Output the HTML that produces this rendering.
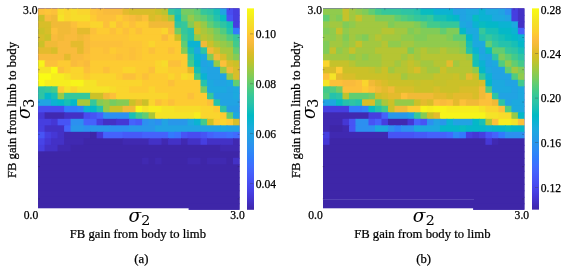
<!DOCTYPE html>
<html><head><meta charset="utf-8"><title>FB gain heatmaps</title>
<style>html,body{margin:0;padding:0;background:#fff}body{width:568px;height:267px;overflow:hidden}</style></head>
<body>
<svg width="568" height="267" viewBox="0 0 568 267" style="display:block">
<defs><linearGradient id="pg" x1="0" y1="1" x2="0" y2="0"><stop offset="0.0000" stop-color="#3e26a8"/><stop offset="0.0312" stop-color="#422ebf"/><stop offset="0.0625" stop-color="#4537d5"/><stop offset="0.0938" stop-color="#4741e5"/><stop offset="0.1250" stop-color="#484cf0"/><stop offset="0.1562" stop-color="#4757f7"/><stop offset="0.1875" stop-color="#4562fc"/><stop offset="0.2188" stop-color="#3f6eff"/><stop offset="0.2500" stop-color="#337afd"/><stop offset="0.2812" stop-color="#2e86f8"/><stop offset="0.3125" stop-color="#2c90f0"/><stop offset="0.3438" stop-color="#269ae8"/><stop offset="0.3750" stop-color="#21a3e3"/><stop offset="0.4062" stop-color="#1aacdd"/><stop offset="0.4375" stop-color="#0bb3d2"/><stop offset="0.4688" stop-color="#01bac4"/><stop offset="0.5000" stop-color="#17bfb6"/><stop offset="0.5312" stop-color="#2bc3a8"/><stop offset="0.5625" stop-color="#35c79b"/><stop offset="0.5938" stop-color="#48cb86"/><stop offset="0.6250" stop-color="#61cd72"/><stop offset="0.6562" stop-color="#7dcc5b"/><stop offset="0.6875" stop-color="#96ca48"/><stop offset="0.7188" stop-color="#b2c635"/><stop offset="0.7500" stop-color="#cbc128"/><stop offset="0.7812" stop-color="#debc29"/><stop offset="0.8125" stop-color="#f1ba37"/><stop offset="0.8438" stop-color="#fcbc3e"/><stop offset="0.8750" stop-color="#fdcb32"/><stop offset="0.9062" stop-color="#f8d92b"/><stop offset="0.9375" stop-color="#f5e327"/><stop offset="0.9688" stop-color="#f6f11c"/><stop offset="1.0000" stop-color="#f9fb15"/></linearGradient></defs>
<rect width="568" height="267" fill="#fff"/>
<clipPath id="cl"><rect x="38.1" y="8.35" width="201.4" height="201.45"/></clipPath>
<g clip-path="url(#cl)">
<rect x="37.1" y="7.35" width="203.4" height="203.45" fill="#3e26a8"/>
<rect x="38.10" y="8.35" width="7.50" height="7.50" fill="#fcc03a"/>
<rect x="44.60" y="8.35" width="7.50" height="7.50" fill="#fdc537"/>
<rect x="51.09" y="8.35" width="7.50" height="7.50" fill="#fcc03a"/>
<rect x="57.59" y="8.35" width="7.50" height="7.50" fill="#f7dc2a"/>
<rect x="64.09" y="8.35" width="7.50" height="7.50" fill="#fad52d"/>
<rect x="70.58" y="8.35" width="7.50" height="7.50" fill="#f7dc2a"/>
<rect x="77.08" y="8.35" width="13.99" height="7.50" fill="#fad52d"/>
<rect x="90.07" y="8.35" width="7.50" height="7.50" fill="#fdc537"/>
<rect x="96.57" y="8.35" width="7.50" height="7.50" fill="#fcc03a"/>
<rect x="103.07" y="8.35" width="20.49" height="7.50" fill="#f9bb3c"/>
<rect x="122.56" y="8.35" width="7.50" height="7.50" fill="#e4bb2d"/>
<rect x="129.05" y="8.35" width="26.99" height="7.50" fill="#d8be29"/>
<rect x="155.04" y="8.35" width="7.50" height="7.50" fill="#cbc128"/>
<rect x="161.54" y="8.35" width="7.50" height="7.50" fill="#bac431"/>
<rect x="168.04" y="8.35" width="7.50" height="7.50" fill="#35c79b"/>
<rect x="174.53" y="8.35" width="7.50" height="7.50" fill="#25c2ac"/>
<rect x="181.03" y="8.35" width="13.99" height="7.50" fill="#75cc62"/>
<rect x="194.02" y="8.35" width="7.50" height="7.50" fill="#61cd72"/>
<rect x="200.52" y="8.35" width="7.50" height="7.50" fill="#35c79b"/>
<rect x="207.02" y="8.35" width="7.50" height="7.50" fill="#2ec4a4"/>
<rect x="213.51" y="8.35" width="7.50" height="7.50" fill="#17bfb6"/>
<rect x="220.01" y="8.35" width="7.50" height="7.50" fill="#21a3e3"/>
<rect x="226.51" y="8.35" width="7.50" height="7.50" fill="#484cf0"/>
<rect x="233.00" y="8.35" width="7.50" height="7.50" fill="#463ee0"/>
<rect x="38.10" y="14.85" width="7.50" height="7.50" fill="#cbc128"/>
<rect x="44.60" y="14.85" width="7.50" height="7.50" fill="#f9bb3c"/>
<rect x="51.09" y="14.85" width="7.50" height="7.50" fill="#f1ba37"/>
<rect x="57.59" y="14.85" width="7.50" height="7.50" fill="#f5e327"/>
<rect x="64.09" y="14.85" width="7.50" height="7.50" fill="#fad52d"/>
<rect x="70.58" y="14.85" width="20.49" height="7.50" fill="#f7dc2a"/>
<rect x="90.07" y="14.85" width="7.50" height="7.50" fill="#fdcb32"/>
<rect x="96.57" y="14.85" width="20.49" height="7.50" fill="#fcc03a"/>
<rect x="116.06" y="14.85" width="7.50" height="7.50" fill="#fdcb32"/>
<rect x="122.56" y="14.85" width="7.50" height="7.50" fill="#fcc03a"/>
<rect x="129.05" y="14.85" width="7.50" height="7.50" fill="#f9bb3c"/>
<rect x="135.55" y="14.85" width="7.50" height="7.50" fill="#f1ba37"/>
<rect x="142.05" y="14.85" width="7.50" height="7.50" fill="#fcc03a"/>
<rect x="148.55" y="14.85" width="7.50" height="7.50" fill="#d8be29"/>
<rect x="155.04" y="14.85" width="7.50" height="7.50" fill="#e4bb2d"/>
<rect x="161.54" y="14.85" width="7.50" height="7.50" fill="#d8be29"/>
<rect x="168.04" y="14.85" width="7.50" height="7.50" fill="#aac73b"/>
<rect x="174.53" y="14.85" width="7.50" height="7.50" fill="#17bfb6"/>
<rect x="181.03" y="14.85" width="7.50" height="7.50" fill="#61cd72"/>
<rect x="187.53" y="14.85" width="7.50" height="7.50" fill="#96ca48"/>
<rect x="194.02" y="14.85" width="7.50" height="7.50" fill="#75cc62"/>
<rect x="200.52" y="14.85" width="7.50" height="7.50" fill="#61cd72"/>
<rect x="207.02" y="14.85" width="7.50" height="7.50" fill="#42ca8c"/>
<rect x="213.51" y="14.85" width="7.50" height="7.50" fill="#25c2ac"/>
<rect x="220.01" y="14.85" width="7.50" height="7.50" fill="#08bcc0"/>
<rect x="226.51" y="14.85" width="7.50" height="7.50" fill="#4754f5"/>
<rect x="233.00" y="14.85" width="7.50" height="7.50" fill="#463ee0"/>
<rect x="38.10" y="21.35" width="13.99" height="7.50" fill="#d8be29"/>
<rect x="51.09" y="21.35" width="20.49" height="7.50" fill="#f1ba37"/>
<rect x="70.58" y="21.35" width="7.50" height="7.50" fill="#fcc03a"/>
<rect x="77.08" y="21.35" width="13.99" height="7.50" fill="#fdcb32"/>
<rect x="90.07" y="21.35" width="13.99" height="7.50" fill="#fad52d"/>
<rect x="103.07" y="21.35" width="7.50" height="7.50" fill="#fcc03a"/>
<rect x="109.56" y="21.35" width="7.50" height="7.50" fill="#fad52d"/>
<rect x="116.06" y="21.35" width="7.50" height="7.50" fill="#fcc03a"/>
<rect x="122.56" y="21.35" width="7.50" height="7.50" fill="#fdcb32"/>
<rect x="129.05" y="21.35" width="7.50" height="7.50" fill="#fcc03a"/>
<rect x="135.55" y="21.35" width="13.99" height="7.50" fill="#fdcb32"/>
<rect x="148.55" y="21.35" width="26.99" height="7.50" fill="#f1ba37"/>
<rect x="174.53" y="21.35" width="7.50" height="7.50" fill="#2ec4a4"/>
<rect x="181.03" y="21.35" width="7.50" height="7.50" fill="#35c79b"/>
<rect x="187.53" y="21.35" width="7.50" height="7.50" fill="#85cb55"/>
<rect x="194.02" y="21.35" width="7.50" height="7.50" fill="#bac431"/>
<rect x="200.52" y="21.35" width="7.50" height="7.50" fill="#96ca48"/>
<rect x="207.02" y="21.35" width="7.50" height="7.50" fill="#61cd72"/>
<rect x="213.51" y="21.35" width="7.50" height="7.50" fill="#42ca8c"/>
<rect x="220.01" y="21.35" width="7.50" height="7.50" fill="#2ec4a4"/>
<rect x="226.51" y="21.35" width="7.50" height="7.50" fill="#17bfb6"/>
<rect x="233.00" y="21.35" width="7.50" height="7.50" fill="#463ee0"/>
<rect x="38.10" y="27.85" width="7.50" height="7.50" fill="#cbc128"/>
<rect x="44.60" y="27.85" width="7.50" height="7.50" fill="#d8be29"/>
<rect x="51.09" y="27.85" width="7.50" height="7.50" fill="#fcc03a"/>
<rect x="57.59" y="27.85" width="13.99" height="7.50" fill="#f1ba37"/>
<rect x="70.58" y="27.85" width="7.50" height="7.50" fill="#f9bb3c"/>
<rect x="77.08" y="27.85" width="13.99" height="7.50" fill="#e4bb2d"/>
<rect x="90.07" y="27.85" width="7.50" height="7.50" fill="#fcc03a"/>
<rect x="96.57" y="27.85" width="13.99" height="7.50" fill="#fdcb32"/>
<rect x="109.56" y="27.85" width="7.50" height="7.50" fill="#fcc03a"/>
<rect x="116.06" y="27.85" width="7.50" height="7.50" fill="#fdcb32"/>
<rect x="122.56" y="27.85" width="7.50" height="7.50" fill="#fcc03a"/>
<rect x="129.05" y="27.85" width="7.50" height="7.50" fill="#fdcb32"/>
<rect x="135.55" y="27.85" width="7.50" height="7.50" fill="#fcc03a"/>
<rect x="142.05" y="27.85" width="20.49" height="7.50" fill="#fdcb32"/>
<rect x="161.54" y="27.85" width="7.50" height="7.50" fill="#fad52d"/>
<rect x="168.04" y="27.85" width="7.50" height="7.50" fill="#f9bb3c"/>
<rect x="174.53" y="27.85" width="7.50" height="7.50" fill="#75cc62"/>
<rect x="181.03" y="27.85" width="7.50" height="7.50" fill="#35c79b"/>
<rect x="187.53" y="27.85" width="7.50" height="7.50" fill="#25c2ac"/>
<rect x="194.02" y="27.85" width="7.50" height="7.50" fill="#cbc128"/>
<rect x="200.52" y="27.85" width="7.50" height="7.50" fill="#aac73b"/>
<rect x="207.02" y="27.85" width="7.50" height="7.50" fill="#96ca48"/>
<rect x="213.51" y="27.85" width="7.50" height="7.50" fill="#75cc62"/>
<rect x="220.01" y="27.85" width="7.50" height="7.50" fill="#50cc80"/>
<rect x="226.51" y="27.85" width="7.50" height="7.50" fill="#25c2ac"/>
<rect x="233.00" y="27.85" width="7.50" height="7.50" fill="#337afd"/>
<rect x="38.10" y="34.34" width="7.50" height="7.50" fill="#d8be29"/>
<rect x="44.60" y="34.34" width="7.50" height="7.50" fill="#cbc128"/>
<rect x="51.09" y="34.34" width="7.50" height="7.50" fill="#f9bb3c"/>
<rect x="57.59" y="34.34" width="7.50" height="7.50" fill="#f1ba37"/>
<rect x="64.09" y="34.34" width="13.99" height="7.50" fill="#f9bb3c"/>
<rect x="77.08" y="34.34" width="7.50" height="7.50" fill="#f1ba37"/>
<rect x="83.58" y="34.34" width="7.50" height="7.50" fill="#f9bb3c"/>
<rect x="90.07" y="34.34" width="39.98" height="7.50" fill="#fdc537"/>
<rect x="129.05" y="34.34" width="33.48" height="7.50" fill="#fdcb32"/>
<rect x="161.54" y="34.34" width="7.50" height="7.50" fill="#f9bb3c"/>
<rect x="168.04" y="34.34" width="7.50" height="7.50" fill="#fdcb32"/>
<rect x="174.53" y="34.34" width="7.50" height="7.50" fill="#cbc128"/>
<rect x="181.03" y="34.34" width="7.50" height="7.50" fill="#42ca8c"/>
<rect x="187.53" y="34.34" width="7.50" height="7.50" fill="#25c2ac"/>
<rect x="194.02" y="34.34" width="7.50" height="7.50" fill="#96ca48"/>
<rect x="200.52" y="34.34" width="7.50" height="7.50" fill="#bac431"/>
<rect x="207.02" y="34.34" width="7.50" height="7.50" fill="#aac73b"/>
<rect x="213.51" y="34.34" width="7.50" height="7.50" fill="#85cb55"/>
<rect x="220.01" y="34.34" width="7.50" height="7.50" fill="#75cc62"/>
<rect x="226.51" y="34.34" width="7.50" height="7.50" fill="#50cc80"/>
<rect x="233.00" y="34.34" width="7.50" height="7.50" fill="#35c79b"/>
<rect x="38.10" y="40.84" width="7.50" height="7.50" fill="#cbc128"/>
<rect x="44.60" y="40.84" width="13.99" height="7.50" fill="#f1ba37"/>
<rect x="57.59" y="40.84" width="13.99" height="7.50" fill="#f9bb3c"/>
<rect x="70.58" y="40.84" width="13.99" height="7.50" fill="#e4bb2d"/>
<rect x="83.58" y="40.84" width="7.50" height="7.50" fill="#f9bb3c"/>
<rect x="90.07" y="40.84" width="33.48" height="7.50" fill="#fcc03a"/>
<rect x="122.56" y="40.84" width="20.49" height="7.50" fill="#fdc537"/>
<rect x="142.05" y="40.84" width="7.50" height="7.50" fill="#fdcb32"/>
<rect x="148.55" y="40.84" width="7.50" height="7.50" fill="#fad52d"/>
<rect x="155.04" y="40.84" width="26.99" height="7.50" fill="#fdcb32"/>
<rect x="181.03" y="40.84" width="7.50" height="7.50" fill="#61cd72"/>
<rect x="187.53" y="40.84" width="13.99" height="7.50" fill="#0bb3d2"/>
<rect x="200.52" y="40.84" width="7.50" height="7.50" fill="#f1ba37"/>
<rect x="207.02" y="40.84" width="7.50" height="7.50" fill="#cbc128"/>
<rect x="213.51" y="40.84" width="7.50" height="7.50" fill="#aac73b"/>
<rect x="220.01" y="40.84" width="7.50" height="7.50" fill="#96ca48"/>
<rect x="226.51" y="40.84" width="7.50" height="7.50" fill="#85cb55"/>
<rect x="233.00" y="40.84" width="7.50" height="7.50" fill="#42ca8c"/>
<rect x="38.10" y="47.34" width="13.99" height="7.50" fill="#e4bb2d"/>
<rect x="51.09" y="47.34" width="7.50" height="7.50" fill="#d8be29"/>
<rect x="57.59" y="47.34" width="20.49" height="7.50" fill="#f9bb3c"/>
<rect x="77.08" y="47.34" width="7.50" height="7.50" fill="#e4bb2d"/>
<rect x="83.58" y="47.34" width="7.50" height="7.50" fill="#f9bb3c"/>
<rect x="90.07" y="47.34" width="13.99" height="7.50" fill="#fdc537"/>
<rect x="103.07" y="47.34" width="7.50" height="7.50" fill="#fcc03a"/>
<rect x="109.56" y="47.34" width="7.50" height="7.50" fill="#fdcb32"/>
<rect x="116.06" y="47.34" width="13.99" height="7.50" fill="#fdc537"/>
<rect x="129.05" y="47.34" width="7.50" height="7.50" fill="#fcc03a"/>
<rect x="135.55" y="47.34" width="7.50" height="7.50" fill="#fdc537"/>
<rect x="142.05" y="47.34" width="7.50" height="7.50" fill="#fdcb32"/>
<rect x="148.55" y="47.34" width="7.50" height="7.50" fill="#fcc03a"/>
<rect x="155.04" y="47.34" width="13.99" height="7.50" fill="#fdcb32"/>
<rect x="168.04" y="47.34" width="7.50" height="7.50" fill="#fcc03a"/>
<rect x="174.53" y="47.34" width="7.50" height="7.50" fill="#fdcb32"/>
<rect x="181.03" y="47.34" width="7.50" height="7.50" fill="#85cb55"/>
<rect x="187.53" y="47.34" width="7.50" height="7.50" fill="#17bfb6"/>
<rect x="194.02" y="47.34" width="7.50" height="7.50" fill="#1ca9df"/>
<rect x="200.52" y="47.34" width="7.50" height="7.50" fill="#2ec4a4"/>
<rect x="207.02" y="47.34" width="7.50" height="7.50" fill="#f1ba37"/>
<rect x="213.51" y="47.34" width="7.50" height="7.50" fill="#d8be29"/>
<rect x="220.01" y="47.34" width="13.99" height="7.50" fill="#aac73b"/>
<rect x="233.00" y="47.34" width="7.50" height="7.50" fill="#61cd72"/>
<rect x="38.10" y="53.84" width="26.99" height="7.50" fill="#f9bb3c"/>
<rect x="64.09" y="53.84" width="7.50" height="7.50" fill="#e4bb2d"/>
<rect x="70.58" y="53.84" width="13.99" height="7.50" fill="#f9bb3c"/>
<rect x="83.58" y="53.84" width="7.50" height="7.50" fill="#fcc03a"/>
<rect x="90.07" y="53.84" width="26.99" height="7.50" fill="#fdc537"/>
<rect x="116.06" y="53.84" width="7.50" height="7.50" fill="#fcc03a"/>
<rect x="122.56" y="53.84" width="7.50" height="7.50" fill="#fdc537"/>
<rect x="129.05" y="53.84" width="7.50" height="7.50" fill="#fcc03a"/>
<rect x="135.55" y="53.84" width="7.50" height="7.50" fill="#fdc537"/>
<rect x="142.05" y="53.84" width="46.48" height="7.50" fill="#fdcb32"/>
<rect x="187.53" y="53.84" width="7.50" height="7.50" fill="#35c79b"/>
<rect x="194.02" y="53.84" width="7.50" height="7.50" fill="#0bb3d2"/>
<rect x="200.52" y="53.84" width="7.50" height="7.50" fill="#1ca9df"/>
<rect x="207.02" y="53.84" width="7.50" height="7.50" fill="#85cb55"/>
<rect x="213.51" y="53.84" width="7.50" height="7.50" fill="#f1ba37"/>
<rect x="220.01" y="53.84" width="7.50" height="7.50" fill="#d8be29"/>
<rect x="226.51" y="53.84" width="7.50" height="7.50" fill="#aac73b"/>
<rect x="233.00" y="53.84" width="7.50" height="7.50" fill="#85cb55"/>
<rect x="38.10" y="60.34" width="7.50" height="7.50" fill="#f7f41a"/>
<rect x="44.60" y="60.34" width="13.99" height="7.50" fill="#fcc03a"/>
<rect x="57.59" y="60.34" width="13.99" height="7.50" fill="#fdcb32"/>
<rect x="70.58" y="60.34" width="7.50" height="7.50" fill="#f9bb3c"/>
<rect x="77.08" y="60.34" width="7.50" height="7.50" fill="#fcc03a"/>
<rect x="83.58" y="60.34" width="7.50" height="7.50" fill="#f9bb3c"/>
<rect x="90.07" y="60.34" width="65.97" height="7.50" fill="#fdcb32"/>
<rect x="155.04" y="60.34" width="7.50" height="7.50" fill="#fad52d"/>
<rect x="161.54" y="60.34" width="7.50" height="7.50" fill="#f7dc2a"/>
<rect x="168.04" y="60.34" width="13.99" height="7.50" fill="#fcc03a"/>
<rect x="181.03" y="60.34" width="7.50" height="7.50" fill="#fdcb32"/>
<rect x="187.53" y="60.34" width="7.50" height="7.50" fill="#42ca8c"/>
<rect x="194.02" y="60.34" width="7.50" height="7.50" fill="#04b8c8"/>
<rect x="200.52" y="60.34" width="7.50" height="7.50" fill="#21a3e3"/>
<rect x="207.02" y="60.34" width="7.50" height="7.50" fill="#1ca9df"/>
<rect x="213.51" y="60.34" width="7.50" height="7.50" fill="#96ca48"/>
<rect x="220.01" y="60.34" width="7.50" height="7.50" fill="#fcc03a"/>
<rect x="226.51" y="60.34" width="7.50" height="7.50" fill="#d8be29"/>
<rect x="233.00" y="60.34" width="7.50" height="7.50" fill="#cbc128"/>
<rect x="38.10" y="66.84" width="13.99" height="7.50" fill="#f5e327"/>
<rect x="51.09" y="66.84" width="7.50" height="7.50" fill="#f9fb15"/>
<rect x="57.59" y="66.84" width="7.50" height="7.50" fill="#fcc03a"/>
<rect x="64.09" y="66.84" width="7.50" height="7.50" fill="#fdcb32"/>
<rect x="70.58" y="66.84" width="13.99" height="7.50" fill="#fad52d"/>
<rect x="83.58" y="66.84" width="7.50" height="7.50" fill="#fcc03a"/>
<rect x="90.07" y="66.84" width="13.99" height="7.50" fill="#fdcb32"/>
<rect x="103.07" y="66.84" width="7.50" height="7.50" fill="#fcc03a"/>
<rect x="109.56" y="66.84" width="13.99" height="7.50" fill="#fdcb32"/>
<rect x="122.56" y="66.84" width="13.99" height="7.50" fill="#fad52d"/>
<rect x="135.55" y="66.84" width="13.99" height="7.50" fill="#fdcb32"/>
<rect x="148.55" y="66.84" width="7.50" height="7.50" fill="#fcc03a"/>
<rect x="155.04" y="66.84" width="13.99" height="7.50" fill="#fad52d"/>
<rect x="168.04" y="66.84" width="20.49" height="7.50" fill="#fdcb32"/>
<rect x="187.53" y="66.84" width="7.50" height="7.50" fill="#e4bb2d"/>
<rect x="194.02" y="66.84" width="7.50" height="7.50" fill="#17bfb6"/>
<rect x="200.52" y="66.84" width="7.50" height="7.50" fill="#1ca9df"/>
<rect x="207.02" y="66.84" width="13.99" height="7.50" fill="#21a3e3"/>
<rect x="220.01" y="66.84" width="7.50" height="7.50" fill="#96ca48"/>
<rect x="226.51" y="66.84" width="7.50" height="7.50" fill="#f1ba37"/>
<rect x="233.00" y="66.84" width="7.50" height="7.50" fill="#d8be29"/>
<rect x="38.10" y="73.33" width="13.99" height="7.50" fill="#f9fb15"/>
<rect x="51.09" y="73.33" width="13.99" height="7.50" fill="#f6ed1f"/>
<rect x="64.09" y="73.33" width="7.50" height="7.50" fill="#f5e327"/>
<rect x="70.58" y="73.33" width="13.99" height="7.50" fill="#fad52d"/>
<rect x="83.58" y="73.33" width="7.50" height="7.50" fill="#fdcb32"/>
<rect x="90.07" y="73.33" width="26.99" height="7.50" fill="#fad52d"/>
<rect x="116.06" y="73.33" width="7.50" height="7.50" fill="#fdcb32"/>
<rect x="122.56" y="73.33" width="13.99" height="7.50" fill="#fcc03a"/>
<rect x="135.55" y="73.33" width="7.50" height="7.50" fill="#fdcb32"/>
<rect x="142.05" y="73.33" width="7.50" height="7.50" fill="#fcc03a"/>
<rect x="148.55" y="73.33" width="20.49" height="7.50" fill="#fdcb32"/>
<rect x="168.04" y="73.33" width="7.50" height="7.50" fill="#fad52d"/>
<rect x="174.53" y="73.33" width="7.50" height="7.50" fill="#fdcb32"/>
<rect x="181.03" y="73.33" width="7.50" height="7.50" fill="#f7dc2a"/>
<rect x="187.53" y="73.33" width="7.50" height="7.50" fill="#fad52d"/>
<rect x="194.02" y="73.33" width="7.50" height="7.50" fill="#42ca8c"/>
<rect x="200.52" y="73.33" width="7.50" height="7.50" fill="#0bb3d2"/>
<rect x="207.02" y="73.33" width="20.49" height="7.50" fill="#21a3e3"/>
<rect x="226.51" y="73.33" width="7.50" height="7.50" fill="#96ca48"/>
<rect x="233.00" y="73.33" width="7.50" height="7.50" fill="#d8be29"/>
<rect x="38.10" y="79.83" width="7.50" height="7.50" fill="#f9fb15"/>
<rect x="44.60" y="79.83" width="26.99" height="7.50" fill="#f6ed1f"/>
<rect x="70.58" y="79.83" width="13.99" height="7.50" fill="#f7f41a"/>
<rect x="83.58" y="79.83" width="13.99" height="7.50" fill="#f5e327"/>
<rect x="96.57" y="79.83" width="46.48" height="7.50" fill="#fad52d"/>
<rect x="142.05" y="79.83" width="26.99" height="7.50" fill="#fdcb32"/>
<rect x="168.04" y="79.83" width="7.50" height="7.50" fill="#fcc03a"/>
<rect x="174.53" y="79.83" width="26.99" height="7.50" fill="#fdcb32"/>
<rect x="200.52" y="79.83" width="7.50" height="7.50" fill="#25c2ac"/>
<rect x="207.02" y="79.83" width="7.50" height="7.50" fill="#1ca9df"/>
<rect x="213.51" y="79.83" width="13.99" height="7.50" fill="#21a3e3"/>
<rect x="226.51" y="79.83" width="7.50" height="7.50" fill="#1ca9df"/>
<rect x="233.00" y="79.83" width="7.50" height="7.50" fill="#61cd72"/>
<rect x="38.10" y="86.33" width="7.50" height="7.50" fill="#2ec4a4"/>
<rect x="44.60" y="86.33" width="7.50" height="7.50" fill="#35c79b"/>
<rect x="51.09" y="86.33" width="7.50" height="7.50" fill="#42ca8c"/>
<rect x="57.59" y="86.33" width="7.50" height="7.50" fill="#fdcb32"/>
<rect x="64.09" y="86.33" width="7.50" height="7.50" fill="#f5e327"/>
<rect x="70.58" y="86.33" width="7.50" height="7.50" fill="#fad52d"/>
<rect x="77.08" y="86.33" width="33.48" height="7.50" fill="#f5e327"/>
<rect x="109.56" y="86.33" width="7.50" height="7.50" fill="#f7dc2a"/>
<rect x="116.06" y="86.33" width="13.99" height="7.50" fill="#fad52d"/>
<rect x="129.05" y="86.33" width="20.49" height="7.50" fill="#fdcb32"/>
<rect x="148.55" y="86.33" width="7.50" height="7.50" fill="#fad52d"/>
<rect x="155.04" y="86.33" width="46.48" height="7.50" fill="#fdcb32"/>
<rect x="200.52" y="86.33" width="7.50" height="7.50" fill="#75cc62"/>
<rect x="207.02" y="86.33" width="20.49" height="7.50" fill="#1ca9df"/>
<rect x="226.51" y="86.33" width="7.50" height="7.50" fill="#21a3e3"/>
<rect x="233.00" y="86.33" width="7.50" height="7.50" fill="#1ca9df"/>
<rect x="38.10" y="92.83" width="7.50" height="7.50" fill="#2ec4a4"/>
<rect x="44.60" y="92.83" width="7.50" height="7.50" fill="#04b8c8"/>
<rect x="51.09" y="92.83" width="7.50" height="7.50" fill="#17bfb6"/>
<rect x="57.59" y="92.83" width="7.50" height="7.50" fill="#96ca48"/>
<rect x="64.09" y="92.83" width="26.99" height="7.50" fill="#35c79b"/>
<rect x="90.07" y="92.83" width="13.99" height="7.50" fill="#cbc128"/>
<rect x="103.07" y="92.83" width="7.50" height="7.50" fill="#f1ba37"/>
<rect x="109.56" y="92.83" width="7.50" height="7.50" fill="#fcc03a"/>
<rect x="116.06" y="92.83" width="52.97" height="7.50" fill="#fad52d"/>
<rect x="168.04" y="92.83" width="20.49" height="7.50" fill="#fdcb32"/>
<rect x="187.53" y="92.83" width="7.50" height="7.50" fill="#fcc03a"/>
<rect x="194.02" y="92.83" width="13.99" height="7.50" fill="#fdcb32"/>
<rect x="207.02" y="92.83" width="7.50" height="7.50" fill="#35c79b"/>
<rect x="213.51" y="92.83" width="20.49" height="7.50" fill="#21a3e3"/>
<rect x="233.00" y="92.83" width="7.50" height="7.50" fill="#1ca9df"/>
<rect x="38.10" y="99.33" width="13.99" height="7.50" fill="#21a3e3"/>
<rect x="51.09" y="99.33" width="7.50" height="7.50" fill="#0bb3d2"/>
<rect x="57.59" y="99.33" width="7.50" height="7.50" fill="#04b8c8"/>
<rect x="64.09" y="99.33" width="7.50" height="7.50" fill="#17bfb6"/>
<rect x="70.58" y="99.33" width="7.50" height="7.50" fill="#04b8c8"/>
<rect x="77.08" y="99.33" width="13.99" height="7.50" fill="#aac73b"/>
<rect x="90.07" y="99.33" width="7.50" height="7.50" fill="#35c79b"/>
<rect x="96.57" y="99.33" width="7.50" height="7.50" fill="#85cb55"/>
<rect x="103.07" y="99.33" width="7.50" height="7.50" fill="#96ca48"/>
<rect x="109.56" y="99.33" width="7.50" height="7.50" fill="#75cc62"/>
<rect x="116.06" y="99.33" width="13.99" height="7.50" fill="#85cb55"/>
<rect x="129.05" y="99.33" width="7.50" height="7.50" fill="#cbc128"/>
<rect x="135.55" y="99.33" width="7.50" height="7.50" fill="#e4bb2d"/>
<rect x="142.05" y="99.33" width="7.50" height="7.50" fill="#cbc128"/>
<rect x="148.55" y="99.33" width="7.50" height="7.50" fill="#fad52d"/>
<rect x="155.04" y="99.33" width="7.50" height="7.50" fill="#fcc03a"/>
<rect x="161.54" y="99.33" width="7.50" height="7.50" fill="#fdcb32"/>
<rect x="168.04" y="99.33" width="7.50" height="7.50" fill="#fcc03a"/>
<rect x="174.53" y="99.33" width="33.48" height="7.50" fill="#fdcb32"/>
<rect x="207.02" y="99.33" width="7.50" height="7.50" fill="#fcc03a"/>
<rect x="213.51" y="99.33" width="7.50" height="7.50" fill="#25c2ac"/>
<rect x="220.01" y="99.33" width="20.49" height="7.50" fill="#21a3e3"/>
<rect x="38.10" y="105.83" width="26.99" height="7.50" fill="#484cf0"/>
<rect x="64.09" y="105.83" width="13.99" height="7.50" fill="#337afd"/>
<rect x="77.08" y="105.83" width="7.50" height="7.50" fill="#3082fa"/>
<rect x="83.58" y="105.83" width="7.50" height="7.50" fill="#0bb3d2"/>
<rect x="90.07" y="105.83" width="7.50" height="7.50" fill="#04b8c8"/>
<rect x="96.57" y="105.83" width="7.50" height="7.50" fill="#25c2ac"/>
<rect x="103.07" y="105.83" width="7.50" height="7.50" fill="#96ca48"/>
<rect x="109.56" y="105.83" width="13.99" height="7.50" fill="#cbc128"/>
<rect x="122.56" y="105.83" width="13.99" height="7.50" fill="#f1ba37"/>
<rect x="135.55" y="105.83" width="7.50" height="7.50" fill="#f7f41a"/>
<rect x="142.05" y="105.83" width="7.50" height="7.50" fill="#f5e327"/>
<rect x="148.55" y="105.83" width="13.99" height="7.50" fill="#f6ed1f"/>
<rect x="161.54" y="105.83" width="13.99" height="7.50" fill="#f5e327"/>
<rect x="174.53" y="105.83" width="26.99" height="7.50" fill="#f7dc2a"/>
<rect x="200.52" y="105.83" width="13.99" height="7.50" fill="#fad52d"/>
<rect x="213.51" y="105.83" width="7.50" height="7.50" fill="#fdcb32"/>
<rect x="220.01" y="105.83" width="7.50" height="7.50" fill="#2ec4a4"/>
<rect x="226.51" y="105.83" width="13.99" height="7.50" fill="#249de6"/>
<rect x="38.10" y="112.32" width="7.50" height="7.50" fill="#4537d5"/>
<rect x="44.60" y="112.32" width="20.49" height="7.50" fill="#4029b1"/>
<rect x="64.09" y="112.32" width="20.49" height="7.50" fill="#4331c6"/>
<rect x="83.58" y="112.32" width="7.50" height="7.50" fill="#484cf0"/>
<rect x="90.07" y="112.32" width="7.50" height="7.50" fill="#4754f5"/>
<rect x="96.57" y="112.32" width="7.50" height="7.50" fill="#4562fc"/>
<rect x="103.07" y="112.32" width="26.99" height="7.50" fill="#2c90f0"/>
<rect x="129.05" y="112.32" width="7.50" height="7.50" fill="#17bfb6"/>
<rect x="135.55" y="112.32" width="7.50" height="7.50" fill="#42ca8c"/>
<rect x="142.05" y="112.32" width="7.50" height="7.50" fill="#61cd72"/>
<rect x="148.55" y="112.32" width="7.50" height="7.50" fill="#aac73b"/>
<rect x="155.04" y="112.32" width="39.98" height="7.50" fill="#f5e327"/>
<rect x="194.02" y="112.32" width="7.50" height="7.50" fill="#f6ed1f"/>
<rect x="200.52" y="112.32" width="20.49" height="7.50" fill="#fad52d"/>
<rect x="220.01" y="112.32" width="7.50" height="7.50" fill="#fdcb32"/>
<rect x="226.51" y="112.32" width="7.50" height="7.50" fill="#61cd72"/>
<rect x="233.00" y="112.32" width="7.50" height="7.50" fill="#1ca9df"/>
<rect x="38.10" y="118.82" width="13.99" height="7.50" fill="#463ee0"/>
<rect x="51.09" y="118.82" width="7.50" height="7.50" fill="#4537d5"/>
<rect x="57.59" y="118.82" width="13.99" height="7.50" fill="#4754f5"/>
<rect x="70.58" y="118.82" width="13.99" height="7.50" fill="#2c90f0"/>
<rect x="83.58" y="118.82" width="13.99" height="7.50" fill="#4562fc"/>
<rect x="96.57" y="118.82" width="7.50" height="7.50" fill="#463ee0"/>
<rect x="103.07" y="118.82" width="13.99" height="7.50" fill="#4331c6"/>
<rect x="116.06" y="118.82" width="13.99" height="7.50" fill="#4537d5"/>
<rect x="129.05" y="118.82" width="7.50" height="7.50" fill="#4562fc"/>
<rect x="135.55" y="118.82" width="7.50" height="7.50" fill="#465af8"/>
<rect x="142.05" y="118.82" width="7.50" height="7.50" fill="#2c90f0"/>
<rect x="148.55" y="118.82" width="7.50" height="7.50" fill="#2897ea"/>
<rect x="155.04" y="118.82" width="7.50" height="7.50" fill="#2c90f0"/>
<rect x="161.54" y="118.82" width="7.50" height="7.50" fill="#21a3e3"/>
<rect x="168.04" y="118.82" width="20.49" height="7.50" fill="#2897ea"/>
<rect x="187.53" y="118.82" width="7.50" height="7.50" fill="#1ca9df"/>
<rect x="194.02" y="118.82" width="7.50" height="7.50" fill="#0bb3d2"/>
<rect x="200.52" y="118.82" width="7.50" height="7.50" fill="#42ca8c"/>
<rect x="207.02" y="118.82" width="7.50" height="7.50" fill="#cbc128"/>
<rect x="213.51" y="118.82" width="7.50" height="7.50" fill="#fdcb32"/>
<rect x="220.01" y="118.82" width="7.50" height="7.50" fill="#fad52d"/>
<rect x="226.51" y="118.82" width="7.50" height="7.50" fill="#fdcb32"/>
<rect x="233.00" y="118.82" width="7.50" height="7.50" fill="#d8be29"/>
<rect x="38.10" y="125.32" width="7.50" height="7.50" fill="#463ee0"/>
<rect x="44.60" y="125.32" width="20.49" height="7.50" fill="#4331c6"/>
<rect x="64.09" y="125.32" width="7.50" height="7.50" fill="#4562fc"/>
<rect x="70.58" y="125.32" width="13.99" height="7.50" fill="#2897ea"/>
<rect x="83.58" y="125.32" width="7.50" height="7.50" fill="#2c90f0"/>
<rect x="90.07" y="125.32" width="20.49" height="7.50" fill="#2897ea"/>
<rect x="109.56" y="125.32" width="20.49" height="7.50" fill="#2c90f0"/>
<rect x="129.05" y="125.32" width="26.99" height="7.50" fill="#2897ea"/>
<rect x="155.04" y="125.32" width="65.97" height="7.50" fill="#21a3e3"/>
<rect x="220.01" y="125.32" width="7.50" height="7.50" fill="#1ca9df"/>
<rect x="226.51" y="125.32" width="13.99" height="7.50" fill="#21a3e3"/>
<rect x="38.10" y="131.82" width="7.50" height="7.50" fill="#4754f5"/>
<rect x="44.60" y="131.82" width="7.50" height="7.50" fill="#463ee0"/>
<rect x="51.09" y="131.82" width="7.50" height="7.50" fill="#4537d5"/>
<rect x="57.59" y="131.82" width="7.50" height="7.50" fill="#4331c6"/>
<rect x="64.09" y="131.82" width="26.99" height="7.50" fill="#4029b1"/>
<rect x="90.07" y="131.82" width="7.50" height="7.50" fill="#3e26a8"/>
<rect x="96.57" y="131.82" width="7.50" height="7.50" fill="#4537d5"/>
<rect x="103.07" y="131.82" width="20.49" height="7.50" fill="#4562fc"/>
<rect x="122.56" y="131.82" width="20.49" height="7.50" fill="#465af8"/>
<rect x="142.05" y="131.82" width="26.99" height="7.50" fill="#4562fc"/>
<rect x="168.04" y="131.82" width="7.50" height="7.50" fill="#337afd"/>
<rect x="174.53" y="131.82" width="7.50" height="7.50" fill="#3b72fe"/>
<rect x="181.03" y="131.82" width="7.50" height="7.50" fill="#4754f5"/>
<rect x="187.53" y="131.82" width="13.99" height="7.50" fill="#484cf0"/>
<rect x="200.52" y="131.82" width="7.50" height="7.50" fill="#4754f5"/>
<rect x="207.02" y="131.82" width="7.50" height="7.50" fill="#4562fc"/>
<rect x="213.51" y="131.82" width="13.99" height="7.50" fill="#416afe"/>
<rect x="226.51" y="131.82" width="7.50" height="7.50" fill="#3b72fe"/>
<rect x="233.00" y="131.82" width="7.50" height="7.50" fill="#416afe"/>
<rect x="38.10" y="138.32" width="7.50" height="7.50" fill="#4744e8"/>
<rect x="44.60" y="138.32" width="7.50" height="7.50" fill="#4537d5"/>
<rect x="51.09" y="138.32" width="13.99" height="7.50" fill="#4331c6"/>
<rect x="64.09" y="138.32" width="20.49" height="7.50" fill="#4029b1"/>
<rect x="83.58" y="138.32" width="39.98" height="7.50" fill="#3e26a8"/>
<rect x="122.56" y="138.32" width="26.99" height="7.50" fill="#4029b1"/>
<rect x="148.55" y="138.32" width="13.99" height="7.50" fill="#4331c6"/>
<rect x="161.54" y="138.32" width="7.50" height="7.50" fill="#4029b1"/>
<rect x="168.04" y="138.32" width="13.99" height="7.50" fill="#4331c6"/>
<rect x="181.03" y="138.32" width="7.50" height="7.50" fill="#4029b1"/>
<rect x="187.53" y="138.32" width="13.99" height="7.50" fill="#4331c6"/>
<rect x="200.52" y="138.32" width="7.50" height="7.50" fill="#463ee0"/>
<rect x="207.02" y="138.32" width="26.99" height="7.50" fill="#4331c6"/>
<rect x="233.00" y="138.32" width="7.50" height="7.50" fill="#4029b1"/>
<rect x="38.10" y="144.82" width="7.50" height="7.50" fill="#463ee0"/>
<rect x="44.60" y="144.82" width="13.99" height="7.50" fill="#4331c6"/>
<rect x="57.59" y="144.82" width="13.99" height="7.50" fill="#4029b1"/>
<rect x="70.58" y="144.82" width="150.43" height="7.50" fill="#3e26a8"/>
<rect x="220.01" y="144.82" width="20.49" height="7.50" fill="#4029b1"/>
<rect x="38.10" y="151.31" width="202.40" height="7.50" fill="#3e26a8"/>
<rect x="38.10" y="157.81" width="104.95" height="7.50" fill="#3e26a8"/>
<rect x="142.05" y="157.81" width="7.50" height="7.50" fill="#4029b1"/>
<rect x="148.55" y="157.81" width="7.50" height="7.50" fill="#3e26a8"/>
<rect x="155.04" y="157.81" width="7.50" height="7.50" fill="#4029b1"/>
<rect x="161.54" y="157.81" width="26.99" height="7.50" fill="#3e26a8"/>
<rect x="187.53" y="157.81" width="13.99" height="7.50" fill="#4029b1"/>
<rect x="200.52" y="157.81" width="7.50" height="7.50" fill="#3e26a8"/>
<rect x="207.02" y="157.81" width="20.49" height="7.50" fill="#4029b1"/>
<rect x="226.51" y="157.81" width="7.50" height="7.50" fill="#3e26a8"/>
<rect x="233.00" y="157.81" width="7.50" height="7.50" fill="#4331c6"/>
<rect x="38.10" y="164.31" width="202.40" height="7.50" fill="#3e26a8"/>
<rect x="38.10" y="170.81" width="202.40" height="7.50" fill="#3e26a8"/>
<rect x="38.10" y="177.31" width="202.40" height="7.50" fill="#3e26a8"/>
<rect x="38.10" y="183.81" width="202.40" height="7.50" fill="#3e26a8"/>
<rect x="38.10" y="190.30" width="202.40" height="7.50" fill="#3e26a8"/>
<rect x="38.10" y="196.80" width="202.40" height="7.50" fill="#3e26a8"/>
<rect x="38.10" y="203.30" width="202.40" height="7.50" fill="#3e26a8"/>
</g>
<clipPath id="cr"><rect x="323.0" y="8.35" width="201.4" height="201.45"/></clipPath>
<g clip-path="url(#cr)">
<rect x="322.0" y="7.35" width="203.4" height="203.45" fill="#3e26a8"/>
<rect x="323.00" y="8.35" width="20.49" height="7.50" fill="#90cb4d"/>
<rect x="342.49" y="8.35" width="7.50" height="7.50" fill="#c5c22b"/>
<rect x="348.99" y="8.35" width="7.50" height="7.50" fill="#a2c840"/>
<rect x="355.48" y="8.35" width="7.50" height="7.50" fill="#90cb4d"/>
<rect x="361.98" y="8.35" width="7.50" height="7.50" fill="#80cc58"/>
<rect x="368.48" y="8.35" width="7.50" height="7.50" fill="#61cd72"/>
<rect x="374.97" y="8.35" width="7.50" height="7.50" fill="#42ca8c"/>
<rect x="381.47" y="8.35" width="20.49" height="7.50" fill="#35c79b"/>
<rect x="400.96" y="8.35" width="13.99" height="7.50" fill="#2ec4a4"/>
<rect x="413.95" y="8.35" width="7.50" height="7.50" fill="#25c2ac"/>
<rect x="420.45" y="8.35" width="13.99" height="7.50" fill="#08bcc0"/>
<rect x="433.45" y="8.35" width="20.49" height="7.50" fill="#0bb3d2"/>
<rect x="452.94" y="8.35" width="13.99" height="7.50" fill="#21a3e3"/>
<rect x="465.93" y="8.35" width="13.99" height="7.50" fill="#1ca9df"/>
<rect x="478.92" y="8.35" width="7.50" height="7.50" fill="#0bb3d2"/>
<rect x="485.42" y="8.35" width="13.99" height="7.50" fill="#1ca9df"/>
<rect x="498.41" y="8.35" width="7.50" height="7.50" fill="#21a3e3"/>
<rect x="504.91" y="8.35" width="7.50" height="7.50" fill="#2c90f0"/>
<rect x="511.41" y="8.35" width="7.50" height="7.50" fill="#463ee0"/>
<rect x="517.90" y="8.35" width="7.50" height="7.50" fill="#4331c6"/>
<rect x="323.00" y="14.85" width="7.50" height="7.50" fill="#61cd72"/>
<rect x="329.50" y="14.85" width="7.50" height="7.50" fill="#90cb4d"/>
<rect x="335.99" y="14.85" width="7.50" height="7.50" fill="#80cc58"/>
<rect x="342.49" y="14.85" width="7.50" height="7.50" fill="#c5c22b"/>
<rect x="348.99" y="14.85" width="7.50" height="7.50" fill="#a2c840"/>
<rect x="355.48" y="14.85" width="7.50" height="7.50" fill="#c5c22b"/>
<rect x="361.98" y="14.85" width="13.99" height="7.50" fill="#a2c840"/>
<rect x="374.97" y="14.85" width="20.49" height="7.50" fill="#80cc58"/>
<rect x="394.46" y="14.85" width="7.50" height="7.50" fill="#61cd72"/>
<rect x="400.96" y="14.85" width="7.50" height="7.50" fill="#50cc80"/>
<rect x="407.46" y="14.85" width="7.50" height="7.50" fill="#42ca8c"/>
<rect x="413.95" y="14.85" width="7.50" height="7.50" fill="#35c79b"/>
<rect x="420.45" y="14.85" width="7.50" height="7.50" fill="#2ec4a4"/>
<rect x="426.95" y="14.85" width="7.50" height="7.50" fill="#35c79b"/>
<rect x="433.45" y="14.85" width="13.99" height="7.50" fill="#17bfb6"/>
<rect x="446.44" y="14.85" width="7.50" height="7.50" fill="#08bcc0"/>
<rect x="452.94" y="14.85" width="7.50" height="7.50" fill="#04b8c8"/>
<rect x="459.43" y="14.85" width="7.50" height="7.50" fill="#21a3e3"/>
<rect x="465.93" y="14.85" width="7.50" height="7.50" fill="#1ca9df"/>
<rect x="472.43" y="14.85" width="7.50" height="7.50" fill="#08bcc0"/>
<rect x="478.92" y="14.85" width="13.99" height="7.50" fill="#0bb3d2"/>
<rect x="491.92" y="14.85" width="13.99" height="7.50" fill="#1ca9df"/>
<rect x="504.91" y="14.85" width="7.50" height="7.50" fill="#21a3e3"/>
<rect x="511.41" y="14.85" width="7.50" height="7.50" fill="#463ee0"/>
<rect x="517.90" y="14.85" width="7.50" height="7.50" fill="#4331c6"/>
<rect x="323.00" y="21.35" width="7.50" height="7.50" fill="#90cb4d"/>
<rect x="329.50" y="21.35" width="13.99" height="7.50" fill="#a2c840"/>
<rect x="342.49" y="21.35" width="7.50" height="7.50" fill="#80cc58"/>
<rect x="348.99" y="21.35" width="7.50" height="7.50" fill="#90cb4d"/>
<rect x="355.48" y="21.35" width="33.48" height="7.50" fill="#a2c840"/>
<rect x="387.97" y="21.35" width="7.50" height="7.50" fill="#80cc58"/>
<rect x="394.46" y="21.35" width="20.49" height="7.50" fill="#90cb4d"/>
<rect x="413.95" y="21.35" width="7.50" height="7.50" fill="#80cc58"/>
<rect x="420.45" y="21.35" width="7.50" height="7.50" fill="#61cd72"/>
<rect x="426.95" y="21.35" width="13.99" height="7.50" fill="#42ca8c"/>
<rect x="439.94" y="21.35" width="20.49" height="7.50" fill="#35c79b"/>
<rect x="459.43" y="21.35" width="7.50" height="7.50" fill="#1ca9df"/>
<rect x="465.93" y="21.35" width="7.50" height="7.50" fill="#21a3e3"/>
<rect x="472.43" y="21.35" width="7.50" height="7.50" fill="#0bb3d2"/>
<rect x="478.92" y="21.35" width="7.50" height="7.50" fill="#08bcc0"/>
<rect x="485.42" y="21.35" width="13.99" height="7.50" fill="#04b8c8"/>
<rect x="498.41" y="21.35" width="13.99" height="7.50" fill="#0bb3d2"/>
<rect x="511.41" y="21.35" width="7.50" height="7.50" fill="#1ca9df"/>
<rect x="517.90" y="21.35" width="7.50" height="7.50" fill="#4331c6"/>
<rect x="323.00" y="27.85" width="7.50" height="7.50" fill="#80cc58"/>
<rect x="329.50" y="27.85" width="7.50" height="7.50" fill="#90cb4d"/>
<rect x="335.99" y="27.85" width="7.50" height="7.50" fill="#c5c22b"/>
<rect x="342.49" y="27.85" width="7.50" height="7.50" fill="#90cb4d"/>
<rect x="348.99" y="27.85" width="33.48" height="7.50" fill="#a2c840"/>
<rect x="381.47" y="27.85" width="13.99" height="7.50" fill="#b6c533"/>
<rect x="394.46" y="27.85" width="13.99" height="7.50" fill="#a2c840"/>
<rect x="407.46" y="27.85" width="7.50" height="7.50" fill="#80cc58"/>
<rect x="413.95" y="27.85" width="7.50" height="7.50" fill="#90cb4d"/>
<rect x="420.45" y="27.85" width="20.49" height="7.50" fill="#80cc58"/>
<rect x="439.94" y="27.85" width="7.50" height="7.50" fill="#61cd72"/>
<rect x="446.44" y="27.85" width="13.99" height="7.50" fill="#80cc58"/>
<rect x="459.43" y="27.85" width="7.50" height="7.50" fill="#04b8c8"/>
<rect x="465.93" y="27.85" width="13.99" height="7.50" fill="#1ca9df"/>
<rect x="478.92" y="27.85" width="7.50" height="7.50" fill="#35c79b"/>
<rect x="485.42" y="27.85" width="13.99" height="7.50" fill="#17bfb6"/>
<rect x="498.41" y="27.85" width="13.99" height="7.50" fill="#04b8c8"/>
<rect x="511.41" y="27.85" width="7.50" height="7.50" fill="#0bb3d2"/>
<rect x="517.90" y="27.85" width="7.50" height="7.50" fill="#4562fc"/>
<rect x="323.00" y="34.34" width="13.99" height="7.50" fill="#90cb4d"/>
<rect x="335.99" y="34.34" width="7.50" height="7.50" fill="#a2c840"/>
<rect x="342.49" y="34.34" width="7.50" height="7.50" fill="#80cc58"/>
<rect x="348.99" y="34.34" width="7.50" height="7.50" fill="#a2c840"/>
<rect x="355.48" y="34.34" width="7.50" height="7.50" fill="#90cb4d"/>
<rect x="361.98" y="34.34" width="7.50" height="7.50" fill="#80cc58"/>
<rect x="368.48" y="34.34" width="7.50" height="7.50" fill="#a2c840"/>
<rect x="374.97" y="34.34" width="7.50" height="7.50" fill="#b6c533"/>
<rect x="381.47" y="34.34" width="20.49" height="7.50" fill="#a2c840"/>
<rect x="400.96" y="34.34" width="13.99" height="7.50" fill="#90cb4d"/>
<rect x="413.95" y="34.34" width="13.99" height="7.50" fill="#80cc58"/>
<rect x="426.95" y="34.34" width="20.49" height="7.50" fill="#90cb4d"/>
<rect x="446.44" y="34.34" width="7.50" height="7.50" fill="#80cc58"/>
<rect x="452.94" y="34.34" width="13.99" height="7.50" fill="#61cd72"/>
<rect x="465.93" y="34.34" width="7.50" height="7.50" fill="#04b8c8"/>
<rect x="472.43" y="34.34" width="7.50" height="7.50" fill="#1ca9df"/>
<rect x="478.92" y="34.34" width="7.50" height="7.50" fill="#25c2ac"/>
<rect x="485.42" y="34.34" width="7.50" height="7.50" fill="#35c79b"/>
<rect x="491.92" y="34.34" width="7.50" height="7.50" fill="#25c2ac"/>
<rect x="498.41" y="34.34" width="7.50" height="7.50" fill="#17bfb6"/>
<rect x="504.91" y="34.34" width="7.50" height="7.50" fill="#08bcc0"/>
<rect x="511.41" y="34.34" width="7.50" height="7.50" fill="#04b8c8"/>
<rect x="517.90" y="34.34" width="7.50" height="7.50" fill="#0bb3d2"/>
<rect x="323.00" y="40.84" width="7.50" height="7.50" fill="#80cc58"/>
<rect x="329.50" y="40.84" width="13.99" height="7.50" fill="#a2c840"/>
<rect x="342.49" y="40.84" width="7.50" height="7.50" fill="#90cb4d"/>
<rect x="348.99" y="40.84" width="7.50" height="7.50" fill="#a2c840"/>
<rect x="355.48" y="40.84" width="7.50" height="7.50" fill="#c5c22b"/>
<rect x="361.98" y="40.84" width="20.49" height="7.50" fill="#a2c840"/>
<rect x="381.47" y="40.84" width="7.50" height="7.50" fill="#b6c533"/>
<rect x="387.97" y="40.84" width="13.99" height="7.50" fill="#90cb4d"/>
<rect x="400.96" y="40.84" width="13.99" height="7.50" fill="#a2c840"/>
<rect x="413.95" y="40.84" width="46.48" height="7.50" fill="#90cb4d"/>
<rect x="459.43" y="40.84" width="7.50" height="7.50" fill="#80cc58"/>
<rect x="465.93" y="40.84" width="7.50" height="7.50" fill="#17bfb6"/>
<rect x="472.43" y="40.84" width="13.99" height="7.50" fill="#1ca9df"/>
<rect x="485.42" y="40.84" width="7.50" height="7.50" fill="#61cd72"/>
<rect x="491.92" y="40.84" width="7.50" height="7.50" fill="#35c79b"/>
<rect x="498.41" y="40.84" width="13.99" height="7.50" fill="#25c2ac"/>
<rect x="511.41" y="40.84" width="7.50" height="7.50" fill="#17bfb6"/>
<rect x="517.90" y="40.84" width="7.50" height="7.50" fill="#04b8c8"/>
<rect x="323.00" y="47.34" width="7.50" height="7.50" fill="#80cc58"/>
<rect x="329.50" y="47.34" width="7.50" height="7.50" fill="#c5c22b"/>
<rect x="335.99" y="47.34" width="7.50" height="7.50" fill="#90cb4d"/>
<rect x="342.49" y="47.34" width="7.50" height="7.50" fill="#a2c840"/>
<rect x="348.99" y="47.34" width="7.50" height="7.50" fill="#c5c22b"/>
<rect x="355.48" y="47.34" width="20.49" height="7.50" fill="#a2c840"/>
<rect x="374.97" y="47.34" width="33.48" height="7.50" fill="#b6c533"/>
<rect x="407.46" y="47.34" width="7.50" height="7.50" fill="#80cc58"/>
<rect x="413.95" y="47.34" width="7.50" height="7.50" fill="#a2c840"/>
<rect x="420.45" y="47.34" width="7.50" height="7.50" fill="#b6c533"/>
<rect x="426.95" y="47.34" width="13.99" height="7.50" fill="#a2c840"/>
<rect x="439.94" y="47.34" width="7.50" height="7.50" fill="#b6c533"/>
<rect x="446.44" y="47.34" width="13.99" height="7.50" fill="#a2c840"/>
<rect x="459.43" y="47.34" width="7.50" height="7.50" fill="#90cb4d"/>
<rect x="465.93" y="47.34" width="7.50" height="7.50" fill="#25c2ac"/>
<rect x="472.43" y="47.34" width="7.50" height="7.50" fill="#0bb3d2"/>
<rect x="478.92" y="47.34" width="7.50" height="7.50" fill="#21a3e3"/>
<rect x="485.42" y="47.34" width="7.50" height="7.50" fill="#08bcc0"/>
<rect x="491.92" y="47.34" width="13.99" height="7.50" fill="#61cd72"/>
<rect x="504.91" y="47.34" width="7.50" height="7.50" fill="#35c79b"/>
<rect x="511.41" y="47.34" width="7.50" height="7.50" fill="#2ec4a4"/>
<rect x="517.90" y="47.34" width="7.50" height="7.50" fill="#17bfb6"/>
<rect x="323.00" y="53.84" width="26.99" height="7.50" fill="#a2c840"/>
<rect x="348.99" y="53.84" width="7.50" height="7.50" fill="#90cb4d"/>
<rect x="355.48" y="53.84" width="7.50" height="7.50" fill="#a2c840"/>
<rect x="361.98" y="53.84" width="7.50" height="7.50" fill="#90cb4d"/>
<rect x="368.48" y="53.84" width="13.99" height="7.50" fill="#a2c840"/>
<rect x="381.47" y="53.84" width="20.49" height="7.50" fill="#b6c533"/>
<rect x="400.96" y="53.84" width="7.50" height="7.50" fill="#a2c840"/>
<rect x="407.46" y="53.84" width="7.50" height="7.50" fill="#b6c533"/>
<rect x="413.95" y="53.84" width="7.50" height="7.50" fill="#a2c840"/>
<rect x="420.45" y="53.84" width="46.48" height="7.50" fill="#b6c533"/>
<rect x="465.93" y="53.84" width="7.50" height="7.50" fill="#a2c840"/>
<rect x="472.43" y="53.84" width="7.50" height="7.50" fill="#17bfb6"/>
<rect x="478.92" y="53.84" width="7.50" height="7.50" fill="#1ca9df"/>
<rect x="485.42" y="53.84" width="7.50" height="7.50" fill="#21a3e3"/>
<rect x="491.92" y="53.84" width="7.50" height="7.50" fill="#2ec4a4"/>
<rect x="498.41" y="53.84" width="7.50" height="7.50" fill="#80cc58"/>
<rect x="504.91" y="53.84" width="7.50" height="7.50" fill="#61cd72"/>
<rect x="511.41" y="53.84" width="7.50" height="7.50" fill="#42ca8c"/>
<rect x="517.90" y="53.84" width="7.50" height="7.50" fill="#2ec4a4"/>
<rect x="323.00" y="60.34" width="7.50" height="7.50" fill="#fad52d"/>
<rect x="329.50" y="60.34" width="20.49" height="7.50" fill="#c5c22b"/>
<rect x="348.99" y="60.34" width="7.50" height="7.50" fill="#b6c533"/>
<rect x="355.48" y="60.34" width="26.99" height="7.50" fill="#a2c840"/>
<rect x="381.47" y="60.34" width="13.99" height="7.50" fill="#b6c533"/>
<rect x="394.46" y="60.34" width="7.50" height="7.50" fill="#a2c840"/>
<rect x="400.96" y="60.34" width="7.50" height="7.50" fill="#b6c533"/>
<rect x="407.46" y="60.34" width="7.50" height="7.50" fill="#c5c22b"/>
<rect x="413.95" y="60.34" width="7.50" height="7.50" fill="#b6c533"/>
<rect x="420.45" y="60.34" width="13.99" height="7.50" fill="#a2c840"/>
<rect x="433.45" y="60.34" width="13.99" height="7.50" fill="#b6c533"/>
<rect x="446.44" y="60.34" width="7.50" height="7.50" fill="#e4bb2d"/>
<rect x="452.94" y="60.34" width="7.50" height="7.50" fill="#a2c840"/>
<rect x="459.43" y="60.34" width="13.99" height="7.50" fill="#b6c533"/>
<rect x="472.43" y="60.34" width="7.50" height="7.50" fill="#17bfb6"/>
<rect x="478.92" y="60.34" width="7.50" height="7.50" fill="#0bb3d2"/>
<rect x="485.42" y="60.34" width="7.50" height="7.50" fill="#21a3e3"/>
<rect x="491.92" y="60.34" width="7.50" height="7.50" fill="#1ca9df"/>
<rect x="498.41" y="60.34" width="7.50" height="7.50" fill="#50cc80"/>
<rect x="504.91" y="60.34" width="7.50" height="7.50" fill="#90cb4d"/>
<rect x="511.41" y="60.34" width="7.50" height="7.50" fill="#61cd72"/>
<rect x="517.90" y="60.34" width="7.50" height="7.50" fill="#42ca8c"/>
<rect x="323.00" y="66.84" width="13.99" height="7.50" fill="#d8be29"/>
<rect x="335.99" y="66.84" width="7.50" height="7.50" fill="#fdcb32"/>
<rect x="342.49" y="66.84" width="26.99" height="7.50" fill="#cbc128"/>
<rect x="368.48" y="66.84" width="7.50" height="7.50" fill="#c5c22b"/>
<rect x="374.97" y="66.84" width="7.50" height="7.50" fill="#b6c533"/>
<rect x="381.47" y="66.84" width="7.50" height="7.50" fill="#cbc128"/>
<rect x="387.97" y="66.84" width="7.50" height="7.50" fill="#a2c840"/>
<rect x="394.46" y="66.84" width="13.99" height="7.50" fill="#b6c533"/>
<rect x="407.46" y="66.84" width="7.50" height="7.50" fill="#c5c22b"/>
<rect x="413.95" y="66.84" width="7.50" height="7.50" fill="#d8be29"/>
<rect x="420.45" y="66.84" width="7.50" height="7.50" fill="#b6c533"/>
<rect x="426.95" y="66.84" width="13.99" height="7.50" fill="#a2c840"/>
<rect x="439.94" y="66.84" width="7.50" height="7.50" fill="#cbc128"/>
<rect x="446.44" y="66.84" width="26.99" height="7.50" fill="#b6c533"/>
<rect x="472.43" y="66.84" width="7.50" height="7.50" fill="#90cb4d"/>
<rect x="478.92" y="66.84" width="7.50" height="7.50" fill="#04b8c8"/>
<rect x="485.42" y="66.84" width="7.50" height="7.50" fill="#1ca9df"/>
<rect x="491.92" y="66.84" width="13.99" height="7.50" fill="#21a3e3"/>
<rect x="504.91" y="66.84" width="7.50" height="7.50" fill="#61cd72"/>
<rect x="511.41" y="66.84" width="7.50" height="7.50" fill="#a2c840"/>
<rect x="517.90" y="66.84" width="7.50" height="7.50" fill="#80cc58"/>
<rect x="323.00" y="73.33" width="7.50" height="7.50" fill="#fcc03a"/>
<rect x="329.50" y="73.33" width="7.50" height="7.50" fill="#f5e327"/>
<rect x="335.99" y="73.33" width="7.50" height="7.50" fill="#e4bb2d"/>
<rect x="342.49" y="73.33" width="13.99" height="7.50" fill="#d8be29"/>
<rect x="355.48" y="73.33" width="33.48" height="7.50" fill="#cbc128"/>
<rect x="387.97" y="73.33" width="13.99" height="7.50" fill="#c5c22b"/>
<rect x="400.96" y="73.33" width="7.50" height="7.50" fill="#a2c840"/>
<rect x="407.46" y="73.33" width="26.99" height="7.50" fill="#b6c533"/>
<rect x="433.45" y="73.33" width="20.49" height="7.50" fill="#c5c22b"/>
<rect x="452.94" y="73.33" width="7.50" height="7.50" fill="#cbc128"/>
<rect x="459.43" y="73.33" width="7.50" height="7.50" fill="#b6c533"/>
<rect x="465.93" y="73.33" width="7.50" height="7.50" fill="#e4bb2d"/>
<rect x="472.43" y="73.33" width="7.50" height="7.50" fill="#cbc128"/>
<rect x="478.92" y="73.33" width="7.50" height="7.50" fill="#35c79b"/>
<rect x="485.42" y="73.33" width="7.50" height="7.50" fill="#0bb3d2"/>
<rect x="491.92" y="73.33" width="20.49" height="7.50" fill="#21a3e3"/>
<rect x="511.41" y="73.33" width="7.50" height="7.50" fill="#50cc80"/>
<rect x="517.90" y="73.33" width="7.50" height="7.50" fill="#90cb4d"/>
<rect x="323.00" y="79.83" width="7.50" height="7.50" fill="#f5e327"/>
<rect x="329.50" y="79.83" width="13.99" height="7.50" fill="#fcc03a"/>
<rect x="342.49" y="79.83" width="13.99" height="7.50" fill="#f9bb3c"/>
<rect x="355.48" y="79.83" width="7.50" height="7.50" fill="#fcc03a"/>
<rect x="361.98" y="79.83" width="7.50" height="7.50" fill="#fad52d"/>
<rect x="368.48" y="79.83" width="7.50" height="7.50" fill="#f1ba37"/>
<rect x="374.97" y="79.83" width="7.50" height="7.50" fill="#e4bb2d"/>
<rect x="381.47" y="79.83" width="7.50" height="7.50" fill="#d8be29"/>
<rect x="387.97" y="79.83" width="26.99" height="7.50" fill="#cbc128"/>
<rect x="413.95" y="79.83" width="7.50" height="7.50" fill="#c5c22b"/>
<rect x="420.45" y="79.83" width="13.99" height="7.50" fill="#cbc128"/>
<rect x="433.45" y="79.83" width="13.99" height="7.50" fill="#c5c22b"/>
<rect x="446.44" y="79.83" width="33.48" height="7.50" fill="#cbc128"/>
<rect x="478.92" y="79.83" width="7.50" height="7.50" fill="#d8be29"/>
<rect x="485.42" y="79.83" width="7.50" height="7.50" fill="#04b8c8"/>
<rect x="491.92" y="79.83" width="13.99" height="7.50" fill="#1ca9df"/>
<rect x="504.91" y="79.83" width="13.99" height="7.50" fill="#21a3e3"/>
<rect x="517.90" y="79.83" width="7.50" height="7.50" fill="#42ca8c"/>
<rect x="323.00" y="86.33" width="7.50" height="7.50" fill="#42ca8c"/>
<rect x="329.50" y="86.33" width="7.50" height="7.50" fill="#50cc80"/>
<rect x="335.99" y="86.33" width="7.50" height="7.50" fill="#75cc62"/>
<rect x="342.49" y="86.33" width="20.49" height="7.50" fill="#fcc03a"/>
<rect x="361.98" y="86.33" width="7.50" height="7.50" fill="#fdcb32"/>
<rect x="368.48" y="86.33" width="7.50" height="7.50" fill="#fcc03a"/>
<rect x="374.97" y="86.33" width="7.50" height="7.50" fill="#f1ba37"/>
<rect x="381.47" y="86.33" width="7.50" height="7.50" fill="#e4bb2d"/>
<rect x="387.97" y="86.33" width="7.50" height="7.50" fill="#f1ba37"/>
<rect x="394.46" y="86.33" width="20.49" height="7.50" fill="#d8be29"/>
<rect x="413.95" y="86.33" width="20.49" height="7.50" fill="#cbc128"/>
<rect x="433.45" y="86.33" width="7.50" height="7.50" fill="#d8be29"/>
<rect x="439.94" y="86.33" width="20.49" height="7.50" fill="#cbc128"/>
<rect x="459.43" y="86.33" width="20.49" height="7.50" fill="#d8be29"/>
<rect x="478.92" y="86.33" width="7.50" height="7.50" fill="#f1ba37"/>
<rect x="485.42" y="86.33" width="7.50" height="7.50" fill="#50cc80"/>
<rect x="491.92" y="86.33" width="20.49" height="7.50" fill="#1ca9df"/>
<rect x="511.41" y="86.33" width="7.50" height="7.50" fill="#21a3e3"/>
<rect x="517.90" y="86.33" width="7.50" height="7.50" fill="#1ca9df"/>
<rect x="323.00" y="92.83" width="7.50" height="7.50" fill="#50cc80"/>
<rect x="329.50" y="92.83" width="7.50" height="7.50" fill="#25c2ac"/>
<rect x="335.99" y="92.83" width="7.50" height="7.50" fill="#2ec4a4"/>
<rect x="342.49" y="92.83" width="7.50" height="7.50" fill="#bac431"/>
<rect x="348.99" y="92.83" width="20.49" height="7.50" fill="#61cd72"/>
<rect x="368.48" y="92.83" width="7.50" height="7.50" fill="#75cc62"/>
<rect x="374.97" y="92.83" width="7.50" height="7.50" fill="#cbc128"/>
<rect x="381.47" y="92.83" width="7.50" height="7.50" fill="#d8be29"/>
<rect x="387.97" y="92.83" width="13.99" height="7.50" fill="#e4bb2d"/>
<rect x="400.96" y="92.83" width="7.50" height="7.50" fill="#fcc03a"/>
<rect x="407.46" y="92.83" width="26.99" height="7.50" fill="#f1ba37"/>
<rect x="433.45" y="92.83" width="13.99" height="7.50" fill="#e4bb2d"/>
<rect x="446.44" y="92.83" width="7.50" height="7.50" fill="#d8be29"/>
<rect x="452.94" y="92.83" width="20.49" height="7.50" fill="#e4bb2d"/>
<rect x="472.43" y="92.83" width="7.50" height="7.50" fill="#d8be29"/>
<rect x="478.92" y="92.83" width="7.50" height="7.50" fill="#f1ba37"/>
<rect x="485.42" y="92.83" width="7.50" height="7.50" fill="#fcc03a"/>
<rect x="491.92" y="92.83" width="7.50" height="7.50" fill="#2ec4a4"/>
<rect x="498.41" y="92.83" width="20.49" height="7.50" fill="#21a3e3"/>
<rect x="517.90" y="92.83" width="7.50" height="7.50" fill="#1ca9df"/>
<rect x="323.00" y="99.33" width="7.50" height="7.50" fill="#21a3e3"/>
<rect x="329.50" y="99.33" width="7.50" height="7.50" fill="#1ca9df"/>
<rect x="335.99" y="99.33" width="7.50" height="7.50" fill="#08bcc0"/>
<rect x="342.49" y="99.33" width="7.50" height="7.50" fill="#25c2ac"/>
<rect x="348.99" y="99.33" width="7.50" height="7.50" fill="#2ec4a4"/>
<rect x="355.48" y="99.33" width="7.50" height="7.50" fill="#25c2ac"/>
<rect x="361.98" y="99.33" width="13.99" height="7.50" fill="#d8be29"/>
<rect x="374.97" y="99.33" width="7.50" height="7.50" fill="#61cd72"/>
<rect x="381.47" y="99.33" width="7.50" height="7.50" fill="#aac73b"/>
<rect x="387.97" y="99.33" width="7.50" height="7.50" fill="#cbc128"/>
<rect x="394.46" y="99.33" width="20.49" height="7.50" fill="#96ca48"/>
<rect x="413.95" y="99.33" width="7.50" height="7.50" fill="#cbc128"/>
<rect x="420.45" y="99.33" width="7.50" height="7.50" fill="#e4bb2d"/>
<rect x="426.95" y="99.33" width="7.50" height="7.50" fill="#d8be29"/>
<rect x="433.45" y="99.33" width="7.50" height="7.50" fill="#fcc03a"/>
<rect x="439.94" y="99.33" width="7.50" height="7.50" fill="#f9bb3c"/>
<rect x="446.44" y="99.33" width="7.50" height="7.50" fill="#fcc03a"/>
<rect x="452.94" y="99.33" width="7.50" height="7.50" fill="#e4bb2d"/>
<rect x="459.43" y="99.33" width="7.50" height="7.50" fill="#fcc03a"/>
<rect x="465.93" y="99.33" width="13.99" height="7.50" fill="#f1ba37"/>
<rect x="478.92" y="99.33" width="13.99" height="7.50" fill="#fcc03a"/>
<rect x="491.92" y="99.33" width="7.50" height="7.50" fill="#f1ba37"/>
<rect x="498.41" y="99.33" width="7.50" height="7.50" fill="#2ec4a4"/>
<rect x="504.91" y="99.33" width="7.50" height="7.50" fill="#21a3e3"/>
<rect x="511.41" y="99.33" width="13.99" height="7.50" fill="#1ca9df"/>
<rect x="323.00" y="105.83" width="26.99" height="7.50" fill="#463ee0"/>
<rect x="348.99" y="105.83" width="13.99" height="7.50" fill="#337afd"/>
<rect x="361.98" y="105.83" width="7.50" height="7.50" fill="#3082fa"/>
<rect x="368.48" y="105.83" width="7.50" height="7.50" fill="#08bcc0"/>
<rect x="374.97" y="105.83" width="7.50" height="7.50" fill="#25c2ac"/>
<rect x="381.47" y="105.83" width="7.50" height="7.50" fill="#42ca8c"/>
<rect x="387.97" y="105.83" width="7.50" height="7.50" fill="#cbc128"/>
<rect x="394.46" y="105.83" width="13.99" height="7.50" fill="#f1ba37"/>
<rect x="407.46" y="105.83" width="13.99" height="7.50" fill="#fdcb32"/>
<rect x="420.45" y="105.83" width="7.50" height="7.50" fill="#f7f41a"/>
<rect x="426.95" y="105.83" width="7.50" height="7.50" fill="#f6ed1f"/>
<rect x="433.45" y="105.83" width="13.99" height="7.50" fill="#f7f41a"/>
<rect x="446.44" y="105.83" width="33.48" height="7.50" fill="#f6ed1f"/>
<rect x="478.92" y="105.83" width="7.50" height="7.50" fill="#f5e327"/>
<rect x="485.42" y="105.83" width="13.99" height="7.50" fill="#fad52d"/>
<rect x="498.41" y="105.83" width="7.50" height="7.50" fill="#fcc03a"/>
<rect x="504.91" y="105.83" width="7.50" height="7.50" fill="#50cc80"/>
<rect x="511.41" y="105.83" width="13.99" height="7.50" fill="#1ca9df"/>
<rect x="323.00" y="112.32" width="46.48" height="7.50" fill="#4029b1"/>
<rect x="368.48" y="112.32" width="13.99" height="7.50" fill="#463ee0"/>
<rect x="381.47" y="112.32" width="7.50" height="7.50" fill="#4562fc"/>
<rect x="387.97" y="112.32" width="20.49" height="7.50" fill="#2897ea"/>
<rect x="407.46" y="112.32" width="7.50" height="7.50" fill="#21a3e3"/>
<rect x="413.95" y="112.32" width="7.50" height="7.50" fill="#35c79b"/>
<rect x="420.45" y="112.32" width="7.50" height="7.50" fill="#85cb55"/>
<rect x="426.95" y="112.32" width="7.50" height="7.50" fill="#cbc128"/>
<rect x="433.45" y="112.32" width="7.50" height="7.50" fill="#e4bb2d"/>
<rect x="439.94" y="112.32" width="46.48" height="7.50" fill="#f7f41a"/>
<rect x="485.42" y="112.32" width="13.99" height="7.50" fill="#f5e327"/>
<rect x="498.41" y="112.32" width="13.99" height="7.50" fill="#f7dc2a"/>
<rect x="511.41" y="112.32" width="7.50" height="7.50" fill="#96ca48"/>
<rect x="517.90" y="112.32" width="7.50" height="7.50" fill="#04b8c8"/>
<rect x="323.00" y="118.82" width="20.49" height="7.50" fill="#4029b1"/>
<rect x="342.49" y="118.82" width="7.50" height="7.50" fill="#4537d5"/>
<rect x="348.99" y="118.82" width="7.50" height="7.50" fill="#4754f5"/>
<rect x="355.48" y="118.82" width="13.99" height="7.50" fill="#2c90f0"/>
<rect x="368.48" y="118.82" width="7.50" height="7.50" fill="#4754f5"/>
<rect x="374.97" y="118.82" width="7.50" height="7.50" fill="#4562fc"/>
<rect x="381.47" y="118.82" width="7.50" height="7.50" fill="#463ee0"/>
<rect x="387.97" y="118.82" width="20.49" height="7.50" fill="#4029b1"/>
<rect x="407.46" y="118.82" width="7.50" height="7.50" fill="#4537d5"/>
<rect x="413.95" y="118.82" width="7.50" height="7.50" fill="#4562fc"/>
<rect x="420.45" y="118.82" width="7.50" height="7.50" fill="#4754f5"/>
<rect x="426.95" y="118.82" width="7.50" height="7.50" fill="#2c90f0"/>
<rect x="433.45" y="118.82" width="7.50" height="7.50" fill="#21a3e3"/>
<rect x="439.94" y="118.82" width="7.50" height="7.50" fill="#2897ea"/>
<rect x="446.44" y="118.82" width="7.50" height="7.50" fill="#0bb3d2"/>
<rect x="452.94" y="118.82" width="20.49" height="7.50" fill="#21a3e3"/>
<rect x="472.43" y="118.82" width="7.50" height="7.50" fill="#04b8c8"/>
<rect x="478.92" y="118.82" width="7.50" height="7.50" fill="#17bfb6"/>
<rect x="485.42" y="118.82" width="7.50" height="7.50" fill="#aac73b"/>
<rect x="491.92" y="118.82" width="7.50" height="7.50" fill="#fcc03a"/>
<rect x="498.41" y="118.82" width="13.99" height="7.50" fill="#f6ed1f"/>
<rect x="511.41" y="118.82" width="7.50" height="7.50" fill="#f5e327"/>
<rect x="517.90" y="118.82" width="7.50" height="7.50" fill="#fcc03a"/>
<rect x="323.00" y="125.32" width="7.50" height="7.50" fill="#4029b1"/>
<rect x="329.50" y="125.32" width="13.99" height="7.50" fill="#3e26a8"/>
<rect x="342.49" y="125.32" width="7.50" height="7.50" fill="#4029b1"/>
<rect x="348.99" y="125.32" width="7.50" height="7.50" fill="#4754f5"/>
<rect x="355.48" y="125.32" width="20.49" height="7.50" fill="#2c90f0"/>
<rect x="374.97" y="125.32" width="13.99" height="7.50" fill="#1ca9df"/>
<rect x="387.97" y="125.32" width="7.50" height="7.50" fill="#2c90f0"/>
<rect x="394.46" y="125.32" width="7.50" height="7.50" fill="#3082fa"/>
<rect x="400.96" y="125.32" width="13.99" height="7.50" fill="#2c90f0"/>
<rect x="413.95" y="125.32" width="26.99" height="7.50" fill="#1ca9df"/>
<rect x="439.94" y="125.32" width="20.49" height="7.50" fill="#04b8c8"/>
<rect x="459.43" y="125.32" width="7.50" height="7.50" fill="#08bcc0"/>
<rect x="465.93" y="125.32" width="20.49" height="7.50" fill="#04b8c8"/>
<rect x="485.42" y="125.32" width="7.50" height="7.50" fill="#0bb3d2"/>
<rect x="491.92" y="125.32" width="13.99" height="7.50" fill="#04b8c8"/>
<rect x="504.91" y="125.32" width="7.50" height="7.50" fill="#08bcc0"/>
<rect x="511.41" y="125.32" width="13.99" height="7.50" fill="#04b8c8"/>
<rect x="323.00" y="131.82" width="7.50" height="7.50" fill="#463ee0"/>
<rect x="329.50" y="131.82" width="59.47" height="7.50" fill="#4029b1"/>
<rect x="387.97" y="131.82" width="26.99" height="7.50" fill="#4754f5"/>
<rect x="413.95" y="131.82" width="13.99" height="7.50" fill="#465af8"/>
<rect x="426.95" y="131.82" width="20.49" height="7.50" fill="#4562fc"/>
<rect x="446.44" y="131.82" width="7.50" height="7.50" fill="#416afe"/>
<rect x="452.94" y="131.82" width="7.50" height="7.50" fill="#2d89f6"/>
<rect x="459.43" y="131.82" width="7.50" height="7.50" fill="#337afd"/>
<rect x="465.93" y="131.82" width="7.50" height="7.50" fill="#463ee0"/>
<rect x="472.43" y="131.82" width="7.50" height="7.50" fill="#4537d5"/>
<rect x="478.92" y="131.82" width="7.50" height="7.50" fill="#463ee0"/>
<rect x="485.42" y="131.82" width="7.50" height="7.50" fill="#4754f5"/>
<rect x="491.92" y="131.82" width="7.50" height="7.50" fill="#4562fc"/>
<rect x="498.41" y="131.82" width="7.50" height="7.50" fill="#337afd"/>
<rect x="504.91" y="131.82" width="20.49" height="7.50" fill="#2c90f0"/>
<rect x="323.00" y="138.32" width="7.50" height="7.50" fill="#4537d5"/>
<rect x="329.50" y="138.32" width="156.92" height="7.50" fill="#3e26a8"/>
<rect x="485.42" y="138.32" width="7.50" height="7.50" fill="#4537d5"/>
<rect x="491.92" y="138.32" width="7.50" height="7.50" fill="#4029b1"/>
<rect x="498.41" y="138.32" width="26.99" height="7.50" fill="#3e26a8"/>
<rect x="323.00" y="144.82" width="202.40" height="7.50" fill="#3e26a8"/>
<rect x="323.00" y="151.31" width="202.40" height="7.50" fill="#3e26a8"/>
<rect x="323.00" y="157.81" width="202.40" height="7.50" fill="#3e26a8"/>
<rect x="323.00" y="164.31" width="202.40" height="7.50" fill="#3e26a8"/>
<rect x="323.00" y="170.81" width="202.40" height="7.50" fill="#3e26a8"/>
<rect x="323.00" y="177.31" width="202.40" height="7.50" fill="#3e26a8"/>
<rect x="323.00" y="183.81" width="202.40" height="7.50" fill="#3e26a8"/>
<rect x="323.00" y="190.30" width="202.40" height="7.50" fill="#3e26a8"/>
<rect x="323.00" y="196.80" width="202.40" height="7.50" fill="#3e26a8"/>
<rect x="323.00" y="203.30" width="202.40" height="7.50" fill="#3e26a8"/>
</g>
<rect x="36.0" y="208.3" width="152.6" height="3" fill="#fff"/>
<rect x="67.6" y="8.35" width="0.9" height="1.8" fill="#222" opacity="0.3"/>
<rect x="38.1" y="37.0" width="1.8" height="0.9" fill="#222" opacity="0.3"/>
<rect x="237.7" y="37.0" width="1.8" height="0.9" fill="#222" opacity="0.3"/>
<rect x="99.9" y="8.35" width="0.9" height="1.8" fill="#222" opacity="0.3"/>
<rect x="38.1" y="69.3" width="1.8" height="0.9" fill="#222" opacity="0.3"/>
<rect x="237.7" y="69.3" width="1.8" height="0.9" fill="#222" opacity="0.3"/>
<rect x="132.2" y="8.35" width="0.9" height="1.8" fill="#222" opacity="0.3"/>
<rect x="38.1" y="101.6" width="1.8" height="0.9" fill="#222" opacity="0.3"/>
<rect x="237.7" y="101.6" width="1.8" height="0.9" fill="#222" opacity="0.3"/>
<rect x="164.5" y="8.35" width="0.9" height="1.8" fill="#222" opacity="0.3"/>
<rect x="38.1" y="133.9" width="1.8" height="0.9" fill="#222" opacity="0.3"/>
<rect x="237.7" y="133.9" width="1.8" height="0.9" fill="#222" opacity="0.3"/>
<rect x="196.8" y="8.35" width="0.9" height="1.8" fill="#222" opacity="0.3"/>
<rect x="38.1" y="166.2" width="1.8" height="0.9" fill="#222" opacity="0.3"/>
<rect x="237.7" y="166.2" width="1.8" height="0.9" fill="#222" opacity="0.3"/>
<rect x="229.1" y="8.35" width="0.9" height="1.8" fill="#222" opacity="0.3"/>
<rect x="38.1" y="198.5" width="1.8" height="0.9" fill="#222" opacity="0.3"/>
<rect x="237.7" y="198.5" width="1.8" height="0.9" fill="#222" opacity="0.3"/>
<rect x="320.5" y="208.3" width="152.6" height="3" fill="#fff"/>
<rect x="352.1" y="8.35" width="0.9" height="1.8" fill="#222" opacity="0.3"/>
<rect x="322.6" y="37.0" width="1.8" height="0.9" fill="#222" opacity="0.3"/>
<rect x="522.2" y="37.0" width="1.8" height="0.9" fill="#222" opacity="0.3"/>
<rect x="384.4" y="8.35" width="0.9" height="1.8" fill="#222" opacity="0.3"/>
<rect x="322.6" y="69.3" width="1.8" height="0.9" fill="#222" opacity="0.3"/>
<rect x="522.2" y="69.3" width="1.8" height="0.9" fill="#222" opacity="0.3"/>
<rect x="416.7" y="8.35" width="0.9" height="1.8" fill="#222" opacity="0.3"/>
<rect x="322.6" y="101.6" width="1.8" height="0.9" fill="#222" opacity="0.3"/>
<rect x="522.2" y="101.6" width="1.8" height="0.9" fill="#222" opacity="0.3"/>
<rect x="449.0" y="8.35" width="0.9" height="1.8" fill="#222" opacity="0.3"/>
<rect x="322.6" y="133.9" width="1.8" height="0.9" fill="#222" opacity="0.3"/>
<rect x="522.2" y="133.9" width="1.8" height="0.9" fill="#222" opacity="0.3"/>
<rect x="481.3" y="8.35" width="0.9" height="1.8" fill="#222" opacity="0.3"/>
<rect x="322.6" y="166.2" width="1.8" height="0.9" fill="#222" opacity="0.3"/>
<rect x="522.2" y="166.2" width="1.8" height="0.9" fill="#222" opacity="0.3"/>
<rect x="513.6" y="8.35" width="0.9" height="1.8" fill="#222" opacity="0.3"/>
<rect x="322.6" y="198.5" width="1.8" height="0.9" fill="#222" opacity="0.3"/>
<rect x="522.2" y="198.5" width="1.8" height="0.9" fill="#222" opacity="0.3"/>
<rect x="323" y="199" width="151" height="1" fill="#5a48b8" opacity="0.8"/>
<rect x="247" y="8.35" width="7" height="201.45" fill="url(#pg)"/>
<rect x="532" y="8.35" width="7" height="201.3" fill="url(#pg)"/>
<text x="255.8" y="37.9" font-size="11.6" text-anchor="start" style="font-family:'Liberation Serif','Times New Roman',serif;fill:#000;stroke:#000;stroke-width:0.25px" >0.10</text>
<rect x="250" y="33.5" width="3.2" height="0.8" fill="#444" opacity="0.45"/>
<text x="255.8" y="87.8" font-size="11.6" text-anchor="start" style="font-family:'Liberation Serif','Times New Roman',serif;fill:#000;stroke:#000;stroke-width:0.25px" >0.08</text>
<rect x="250" y="83.39999999999999" width="3.2" height="0.8" fill="#444" opacity="0.45"/>
<text x="255.8" y="137.7" font-size="11.6" text-anchor="start" style="font-family:'Liberation Serif','Times New Roman',serif;fill:#000;stroke:#000;stroke-width:0.25px" >0.06</text>
<rect x="250" y="133.29999999999998" width="3.2" height="0.8" fill="#444" opacity="0.45"/>
<text x="255.8" y="187.7" font-size="11.6" text-anchor="start" style="font-family:'Liberation Serif','Times New Roman',serif;fill:#000;stroke:#000;stroke-width:0.25px" >0.04</text>
<rect x="250" y="183.29999999999998" width="3.2" height="0.8" fill="#444" opacity="0.45"/>
<text x="540.8" y="13.6" font-size="11.6" text-anchor="start" style="font-family:'Liberation Serif','Times New Roman',serif;fill:#000;stroke:#000;stroke-width:0.25px" >0.28</text>
<text x="540.8" y="57.5" font-size="11.6" text-anchor="start" style="font-family:'Liberation Serif','Times New Roman',serif;fill:#000;stroke:#000;stroke-width:0.25px" >0.24</text>
<rect x="535" y="53.1" width="3.2" height="0.8" fill="#444" opacity="0.45"/>
<text x="540.8" y="102.1" font-size="11.6" text-anchor="start" style="font-family:'Liberation Serif','Times New Roman',serif;fill:#000;stroke:#000;stroke-width:0.25px" >0.20</text>
<rect x="535" y="97.69999999999999" width="3.2" height="0.8" fill="#444" opacity="0.45"/>
<text x="540.8" y="146.6" font-size="11.6" text-anchor="start" style="font-family:'Liberation Serif','Times New Roman',serif;fill:#000;stroke:#000;stroke-width:0.25px" >0.16</text>
<rect x="535" y="142.2" width="3.2" height="0.8" fill="#444" opacity="0.45"/>
<text x="540.8" y="191.6" font-size="11.6" text-anchor="start" style="font-family:'Liberation Serif','Times New Roman',serif;fill:#000;stroke:#000;stroke-width:0.25px" >0.12</text>
<rect x="535" y="187.2" width="3.2" height="0.8" fill="#444" opacity="0.45"/>
<text x="37.6" y="13.9" font-size="11.6" text-anchor="end" style="font-family:'Liberation Serif','Times New Roman',serif;fill:#000;stroke:#000;stroke-width:0.25px" >3.0</text>
<text x="38.3" y="218.7" font-size="11.6" text-anchor="end" style="font-family:'Liberation Serif','Times New Roman',serif;fill:#000;stroke:#000;stroke-width:0.25px" >0.0</text>
<text x="230.2" y="218.6" font-size="11.6" text-anchor="start" style="font-family:'Liberation Serif','Times New Roman',serif;fill:#000;stroke:#000;stroke-width:0.25px" >3.0</text>
<text transform="translate(137.9,238.2) scale(0.94,1)" font-size="13.5" text-anchor="middle" style="font-family:'Liberation Serif','Times New Roman',serif;fill:#000;stroke:#000;stroke-width:0.25px">FB gain from body to limb</text>
<text transform="translate(128.40,221.80)" font-size="18.5" style="font-style:italic;font-family:'DejaVu Serif','Liberation Serif',serif;fill:#000;stroke:#000;stroke-width:0.05px">σ</text>
<text transform="translate(141.30,224.60) scale(1.12,1)" font-size="12.7" style="font-family:'DejaVu Serif','Liberation Serif',serif;fill:#000;stroke:#000;stroke-width:0.05px">2</text>
<text transform="translate(15.6,110) rotate(-90) scale(0.96,1)" font-size="13.2" text-anchor="middle" style="font-family:'Liberation Serif','Times New Roman',serif;fill:#000;stroke:#000;stroke-width:0.25px">FB gain from limb to body</text>
<text transform="translate(30.40,119.10) rotate(-90)" font-size="17.6" style="font-style:italic;font-family:'DejaVu Serif','Liberation Serif',serif;fill:#000;stroke:#000;stroke-width:0.05px">σ</text>
<text transform="translate(33.60,107.70) rotate(-90)" font-size="14.4" style="font-family:'DejaVu Serif','Liberation Serif',serif;fill:#000;stroke:#000;stroke-width:0.05px">3</text>
<text x="322.0" y="13.9" font-size="11.6" text-anchor="end" style="font-family:'Liberation Serif','Times New Roman',serif;fill:#000;stroke:#000;stroke-width:0.25px" >3.0</text>
<text x="322.7" y="218.7" font-size="11.6" text-anchor="end" style="font-family:'Liberation Serif','Times New Roman',serif;fill:#000;stroke:#000;stroke-width:0.25px" >0.0</text>
<text x="514.5999999999999" y="218.6" font-size="11.6" text-anchor="start" style="font-family:'Liberation Serif','Times New Roman',serif;fill:#000;stroke:#000;stroke-width:0.25px" >3.0</text>
<text transform="translate(422.29999999999995,238.2) scale(0.94,1)" font-size="13.5" text-anchor="middle" style="font-family:'Liberation Serif','Times New Roman',serif;fill:#000;stroke:#000;stroke-width:0.25px">FB gain from body to limb</text>
<text transform="translate(412.80,221.80)" font-size="18.5" style="font-style:italic;font-family:'DejaVu Serif','Liberation Serif',serif;fill:#000;stroke:#000;stroke-width:0.05px">σ</text>
<text transform="translate(425.70,224.60) scale(1.12,1)" font-size="12.7" style="font-family:'DejaVu Serif','Liberation Serif',serif;fill:#000;stroke:#000;stroke-width:0.05px">2</text>
<text transform="translate(300.0,110) rotate(-90) scale(0.96,1)" font-size="13.2" text-anchor="middle" style="font-family:'Liberation Serif','Times New Roman',serif;fill:#000;stroke:#000;stroke-width:0.25px">FB gain from limb to body</text>
<text transform="translate(314.80,119.10) rotate(-90)" font-size="17.6" style="font-style:italic;font-family:'DejaVu Serif','Liberation Serif',serif;fill:#000;stroke:#000;stroke-width:0.05px">σ</text>
<text transform="translate(318.00,107.70) rotate(-90)" font-size="14.4" style="font-family:'DejaVu Serif','Liberation Serif',serif;fill:#000;stroke:#000;stroke-width:0.05px">3</text>
<text x="141.4" y="263.0" font-size="12.7" text-anchor="middle" style="font-family:'Liberation Serif','Times New Roman',serif;fill:#000;stroke:#000;stroke-width:0.25px" >(a)</text>
<text x="423.6" y="263.0" font-size="12.7" text-anchor="middle" style="font-family:'Liberation Serif','Times New Roman',serif;fill:#000;stroke:#000;stroke-width:0.25px" >(b)</text>
</svg>
</body></html>
